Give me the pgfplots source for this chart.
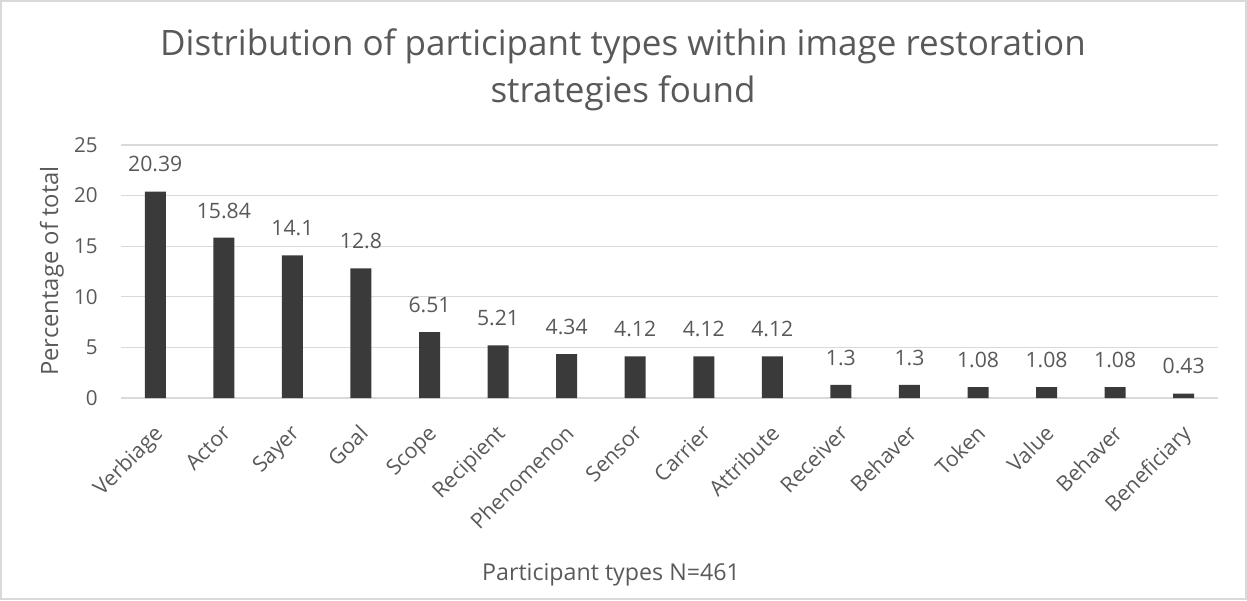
\documentclass[border=0pt]{standalone}
\usepackage{pgfplots}
\pgfplotsset{compat=1.18}
\usepackage{pgfplotstable}
\usepackage{fontspec}
\setmainfont{Open Sans}
\definecolor{txt}{HTML}{595959}
\definecolor{barc}{HTML}{3A3A3A}
\definecolor{gridc}{HTML}{D9D9D9}
\pgfplotstableread[col sep=comma]{
x,y,lab,name
0,20.39,20.39,Verbiage
1,15.84,15.84,Actor
2,14.1,14.1,Sayer
3,12.8,12.8,Goal
4,6.51,6.51,Scope
5,5.21,5.21,Recipient
6,4.34,4.34,Phenomenon
7,4.12,4.12,Sensor
8,4.12,4.12,Carrier
9,4.12,4.12,Attribute
10,1.3,1.3,Receiver
11,1.3,1.3,Behaver
12,1.08,1.08,Token
13,1.08,1.08,Value
14,1.08,1.08,Behaver
15,0.43,0.43,Beneficiary
}\datatable
\begin{document}
\begin{tikzpicture}
\begin{axis}[
  at={(0,0)}, anchor=south west,
  scale only axis, width=548.5pt, height=126.5pt,
  xmin=-0.5, xmax=15.5, ymin=0, ymax=25,
  ytick={0,5,10,15,20,25},
  xtick=data,
  xticklabels from table={\datatable}{name},
  axis line style={draw=none},
  major tick length=0pt,
  ymajorgrids, grid style={gridc, line width=0.6pt},
  yticklabel style={txt, font=\fontsize{10.3}{12}\selectfont, anchor=east, inner sep=0pt, xshift=-11.5pt},
  xticklabel style={txt, font=\fontsize{10.7}{12}\selectfont, inner sep=0pt, xshift=-1.5pt, yshift=-12.5pt, rotate=45, anchor=north east},
  /pgf/number format/assume math mode=true,
  clip=false,
]
\addplot[ybar, bar width=10.5pt, fill=barc, draw=none,
  point meta=explicit symbolic,
  nodes near coords,
  every node near coord/.style={txt, font=\fontsize{10.6}{12}\selectfont, anchor=south, inner sep=0pt, yshift=9.5pt}]
  table[x=x, y=y, meta=lab] {\datatable};
\end{axis}
\node[txt, align=center, font=\fontsize{17.5}{23.5}\selectfont] at (251pt,164pt)
  {Distribution of participant types within image restoration\\strategies found};
\node[txt, font=\fontsize{11.6}{13}\selectfont] at (245pt,-88.5pt) {Participant types N=461};
\node[txt, rotate=90, font=\fontsize{11.9}{13}\selectfont] at (-34.5pt,63.5pt) {Percentage of total};
\draw[gridc, line width=1pt] (-60pt,-100.5pt) rectangle (562.5pt,198.5pt);
\pgfresetboundingbox
\useasboundingbox (-60.5pt,-101pt) rectangle (563pt,199pt);
\end{tikzpicture}
\end{document}
